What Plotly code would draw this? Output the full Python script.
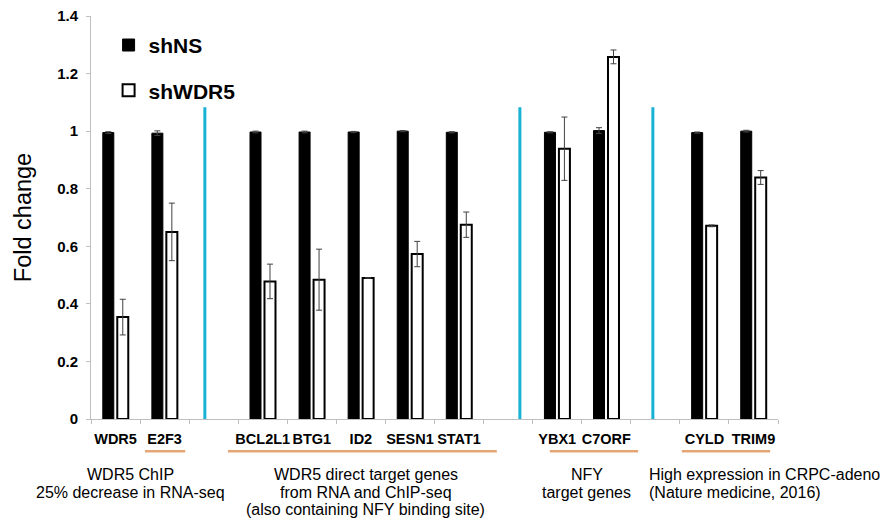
import plotly.graph_objects as go

# category slots (blank slots separate the gene groups)
slots = ["WDR5", "E2F3", " ", "BCL2L1", "BTG1", "ID2", "SESN1", "STAT1", "  ",
         "YBX1", "C7ORF", "   ", "CYLD", "TRIM9"]

shNS = [0.995, 0.993, None, 0.997, 0.997, 0.997, 1.0, 0.996, None,
        0.996, 1.002, None, 0.995, 1.0]
shNS_err = [0.003, 0.008, None, 0.003, 0.003, 0.002, 0.002, 0.002, None,
            0.002, 0.01, None, 0.002, 0.003]

shWDR5 = [0.354, 0.650, None, 0.478, 0.484, 0.490, 0.573, 0.675, None,
          0.939, 1.258, None, 0.671, 0.839]
shWDR5_err = [0.062, 0.10, None, 0.06, 0.106, 0.0, 0.044, 0.044, None,
              0.11, 0.024, None, 0.003, 0.024]

y_ticks = [0, 0.2, 0.4, 0.6, 0.8, 1, 1.2, 1.4]
y_ticktext = ["0", "0.2", "0.4", "0.6", "0.8", "1", "1.2", "1.4"]

group_lines = [
    ["WDR5 ChIP", "25% decrease in RNA-seq"],
    ["WDR5 direct target genes", "from RNA and ChIP-seq", "(also containing NFY binding site)"],
    ["NFY", "target genes"],
    ["High expression in CRPC-adeno", "(Nature medicine, 2016)"],
]

FONT = "Liberation Sans, Arial, sans-serif"
AXIS_GREY = "#bfbfbf"

fig = go.Figure()
fig.add_trace(go.Bar(
    x=slots, y=shNS, name="shNS", legendgroup="a",
    marker=dict(color="black", line=dict(color="black", width=1)),
    error_y=dict(type="data", array=shNS_err, color="#404040", thickness=1, width=3),
))
fig.add_trace(go.Bar(
    x=slots, y=shWDR5, name="shWDR5", legendgroup="b",
    marker=dict(color="white", line=dict(color="black", width=2)),
    error_y=dict(type="data", array=shWDR5_err, color="#404040", thickness=1, width=3),
))

# cyan group separators
for xs in [1.82, 8.24, 10.95]:
    fig.add_shape(type="line", xref="x", yref="y", x0=xs, x1=xs, y0=0, y1=1.083,
                  line=dict(color="#17b2d4", width=3))

# orange underlines below gene names
for a, b in [(0.60, 1.42), (2.29, 7.77), (8.85, 10.65), (11.54, 13.34)]:
    fig.add_shape(type="line", xref="x", yref="paper", x0=a, x1=b, y0=-0.080, y1=-0.080,
                  line=dict(color="#e5a676", width=2.5))

# group descriptions
line_y = [-0.1384, -0.1825, -0.2241]
centers = [(0.315, "center"), (5.1, "center"), (9.6, "center"), (10.83, "left")]
for (xc, anchor), lines in zip(centers, group_lines):
    for i, txt in enumerate(lines):
        fig.add_annotation(x=xc, y=line_y[i], xref="x", yref="paper", text=txt,
                           showarrow=False, xanchor=anchor, yanchor="middle",
                           font=dict(family=FONT, size=16, color="black"))

# page body adds an 8px offset, so the figure is a little smaller than the window
fig.update_layout(
    width=881, height=519,
    margin=dict(l=83, r=111, t=8, b=108, autoexpand=False),
    plot_bgcolor="white", paper_bgcolor="white",
    barmode="group", bargap=0.41, bargroupgap=0.24,
    font=dict(family=FONT, color="black"),
    legend=dict(x=0.0256, y=0.978, xanchor="left", yanchor="top",
                font=dict(size=21, family=FONT, weight="bold"),
                tracegroupgap=15, itemwidth=30, bgcolor="rgba(0,0,0,0)"),
    xaxis=dict(type="category", categoryorder="array", categoryarray=slots,
               range=[-0.5, 13.5], showline=True, linecolor=AXIS_GREY, linewidth=1,
               ticks="outside", tickson="boundaries", ticklen=4, tickcolor=AXIS_GREY,
               tickangle=0, automargin=False, ticklabelstandoff=7,
               tickfont=dict(size=14.5, family=FONT, weight="bold"), showgrid=False),
    yaxis=dict(range=[0, 1.4], tickvals=y_ticks, ticktext=y_ticktext,
               showline=True, linecolor=AXIS_GREY, linewidth=1,
               ticks="outside", ticklen=4, tickcolor=AXIS_GREY, showgrid=False, zeroline=False,
               automargin=False, ticklabelstandoff=5, ticklabeloverflow="allow",
               tickfont=dict(size=15, family=FONT, weight="bold"),
               title=dict(text="Fold change", standoff=18,
                          font=dict(size=23.5, family=FONT))),
)

fig.write_html("out.html")
